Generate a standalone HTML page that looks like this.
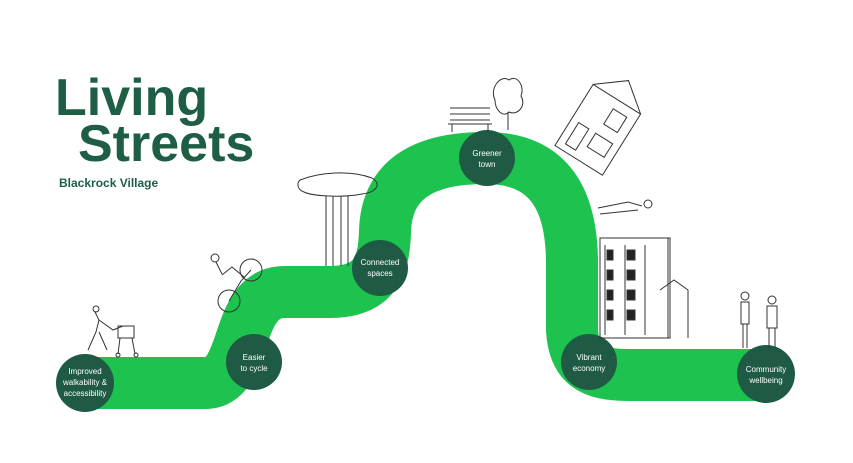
<!DOCTYPE html>
<html><head><meta charset="utf-8"><style>
html,body{margin:0;padding:0;background:#fff;}
.wrap{position:relative;width:853px;height:463px;overflow:hidden;font-family:"Liberation Sans",sans-serif;}
.logo{position:absolute;color:#1d5e45;font-weight:bold;}
</style></head><body><div class="wrap">
<div class="logo" style="left:55px;top:70px;font-size:52px;line-height:56px;">Living</div>
<div class="logo" style="left:78px;top:116px;font-size:52px;line-height:56px;">Streets</div>
<div class="logo" style="left:59px;top:176px;font-size:12px;">Blackrock Village</div>
<svg width="853" height="463" style="position:absolute;left:0;top:0" font-family="Liberation Sans, sans-serif">
<path d="M 85 383 L 205 383 C 250 383, 232 292, 285 292 L 330 292 C 378 292, 384 262, 385 232 C 386 182, 420 158, 485 158 C 550 158, 571 200, 572 260 L 572 330 C 574 365, 592 375, 628 375 L 766 375" fill="none" stroke="#1ec24e" stroke-width="52"/>
<g fill="#1f5a45">
<circle cx="85" cy="383" r="29"/><circle cx="254" cy="362" r="28"/><circle cx="380" cy="268" r="28"/>
<circle cx="487" cy="158" r="28"/><circle cx="589" cy="362" r="28"/><circle cx="766" cy="374" r="29"/>
</g>
<g fill="#fff" font-size="8" text-anchor="middle">
<text x="85" y="374">Improved</text><text x="85" y="385">walkability &amp;</text><text x="85" y="396">accessibility</text>
<text x="254" y="360">Easier</text><text x="254" y="371">to cycle</text>
<text x="380" y="265">Connected</text><text x="380" y="276">spaces</text>
<text x="487" y="156">Greener</text><text x="487" y="167">town</text>
<text x="589" y="360">Vibrant</text><text x="589" y="371">economy</text>
<text x="766" y="372">Community</text><text x="766" y="383">wellbeing</text>
</g>
<g fill="none" stroke="#333" stroke-width="1">
<path d="M95 312 l4 8 l-3 12 l-8 18 M99 332 l8 18 M99 320 l14 10 l10 -4"/><circle cx="96" cy="309" r="3"/>
<path d="M118 326 h16 v12 h-16 z M120 338 l-2 16 M132 338 l3 16"/><circle cx="118" cy="355" r="2"/><circle cx="136" cy="355" r="2"/>
<circle cx="251" cy="270" r="11"/><circle cx="229" cy="301" r="11"/><path d="M229 301 l12 -20 l10 -11 M222 275 l10 -8 l12 10 M216 262 l6 12"/><circle cx="215" cy="258" r="4"/>
<path d="M300 180 c20 -8 50 -10 72 -2 c10 6 5 14 -10 16 c-20 4 -50 2 -58 -2 c-6 -2 -8 -8 -4 -12 z"/>
<path d="M326 196 v70 M333 196 v70 M341 196 v70 M348 196 v70"/>
<path d="M450 108 h40 M450 114 h40 M450 120 h40 M448 124 h44 M452 124 v8 M488 124 v8"/>
<path d="M495 100 c-6 -12 6 -26 14 -20 c8 -6 16 6 12 16 c6 10 -4 20 -12 16 c-6 6 -14 -2 -14 -12 z M508 112 v18"/>
<g transform="rotate(32 600 130)"><rect x="570" y="95" width="56" height="72"/><path d="M570 95 l28 -22 l28 22"/><rect x="600" y="105" width="16" height="18"/><rect x="578" y="135" width="12" height="25"/><rect x="598" y="135" width="20" height="16"/></g>
<path d="M598 208 l30 -6 l14 4 M600 214 l38 -4"/><circle cx="648" cy="204" r="4"/>
<rect x="600" y="238" width="70" height="100"/><path d="M605 245 v90 M625 245 v90 M645 245 v90 M668 238 v100 M660 290 l14 -10 l14 10 v48"/>
<g fill="#222"><rect x="607" y="250" width="6" height="10"/><rect x="627" y="250" width="8" height="10"/><rect x="607" y="270" width="6" height="10"/><rect x="627" y="270" width="8" height="10"/><rect x="607" y="290" width="6" height="10"/><rect x="627" y="290" width="8" height="10"/><rect x="607" y="310" width="6" height="10"/><rect x="627" y="310" width="8" height="10"/></g>
<circle cx="745" cy="296" r="4"/><path d="M741 302 h8 v22 h-8 z M743 324 v24 M747 324 v24"/>
<circle cx="772" cy="300" r="4"/><path d="M767 306 h10 v22 h-10 z M769 328 v20 M775 328 v20"/>
</g>
</svg>
</div></body></html>
